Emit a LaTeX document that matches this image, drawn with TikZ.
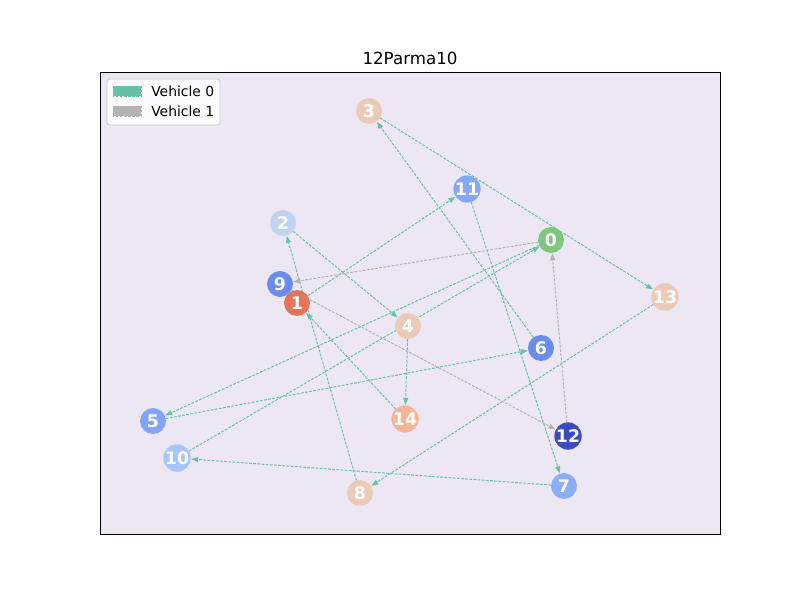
\documentclass[tikz,border=0pt]{standalone}
\usepackage{fontspec}
\setmainfont{DejaVu Sans}
\usetikzlibrary{arrows.meta}
\pgfdeclarelayer{routes}
\pgfsetlayers{routes,main}
\definecolor{panelbg}{RGB}{237,231,244}
\definecolor{routeA}{RGB}{102,194,165}
\definecolor{routeB}{RGB}{179,179,179}
\definecolor{cDepot}{RGB}{126,199,126}
\definecolor{cOne}{RGB}{228,116,90}
\definecolor{cTwo}{RGB}{192,212,241}
\definecolor{cPeach}{RGB}{236,202,184}
\definecolor{cFive}{RGB}{130,165,250}
\definecolor{cSix}{RGB}{104,141,238}
\definecolor{cSeven}{RGB}{138,174,252}
\definecolor{cNine}{RGB}{106,140,240}
\definecolor{cTen}{RGB}{168,196,254}
\definecolor{cEleven}{RGB}{134,168,250}
\definecolor{cTwelve}{RGB}{60,76,192}
\definecolor{cFourteen}{RGB}{244,180,152}
\tikzset{
  stop/.style={circle,fill=#1,minimum size=18.7pt,inner sep=0pt,outer sep=0pt,
    text=white,font=\fontsize{12.5}{12.5}\selectfont\bfseries},
  legA/.style={draw=routeA,fill=routeA,dash pattern=on 2pt off 1pt,line width=0.5pt},
  legB/.style={draw=routeB,fill=routeB,dash pattern=on 2pt off 1pt,line width=0.5pt},
  leg/.style={-{Triangle[length=5pt,width=3.6pt]},line width=0.72pt,dash pattern=on 2pt off 1pt,shorten >=0.3pt},
  legone/.style={leg,routeA},
  legtwo/.style={leg,routeB},
}
\begin{document}
\begin{tikzpicture}[x=0.72pt,y=-0.72pt]
\useasboundingbox (0,0) rectangle (800,600);
\begin{pgfonlayer}{routes}
\fill[white] (0,0) rectangle (800,600);
\fill[panelbg] (100,72) rectangle (720,534);
\end{pgfonlayer}
\node[font=\fontsize{12}{14}\selectfont] (title) at (410,58) {12Parma10};

% customer and depot stops
\node[stop=cDepot]    (n0)  at (551,240) {0};
\node[stop=cOne]      (n1)  at (297,303) {1};
\node[stop=cTwo]      (n2)  at (283,223) {2};
\node[stop=cPeach]    (n3)  at (369,111) {3};
\node[stop=cPeach]    (n4)  at (408,326) {4};
\node[stop=cFive]     (n5)  at (153,421) {5};
\node[stop=cSix]      (n6)  at (541,348) {6};
\node[stop=cSeven]    (n7)  at (564,486) {7};
\node[stop=cPeach]    (n8)  at (360,493) {8};
\node[stop=cNine]     (n9)  at (280,284) {9};
\node[stop=cTen]      (n10) at (177,458) {10};
\node[stop=cEleven]   (n11) at (467,189) {11};
\node[stop=cTwelve]   (n12) at (568,436) {12};
\node[stop=cPeach]    (n13) at (665,297) {13};
\node[stop=cFourteen] (n14) at (405,419) {14};

\begin{pgfonlayer}{routes}
% route of vehicle 0
\draw[legone] (n0) -- (n5);
\draw[legone] (n5) -- (n6);
\draw[legone] (n6) -- (n3);
\draw[legone] (n3) -- (n13);
\draw[legone] (n13) -- (n8);
\draw[legone] (n8) -- (n2);
\draw[legone] (n2) -- (n4);
\draw[legone] (n4) -- (n14);
\draw[legone] (n14) -- (n1);
\draw[legone] (n1) -- (n11);
\draw[legone] (n11) -- (n7);
\draw[legone] (n7) -- (n10);
\draw[legone] (n10) -- (n0);
% route of vehicle 1
\draw[legtwo] (n0) -- (n9);
\draw[legtwo] (n9) -- (n12);
\draw[legtwo] (n12) -- (n0);
\end{pgfonlayer}

% legend
\filldraw[draw={rgb,255:red,204;green,204;blue,204},fill=white,fill opacity=0.8,draw opacity=1,rounded corners=2pt,line width=0.6pt]
  (107,79) rectangle (220,125);
\draw[legA] (113,86) rectangle (141,96);
\draw[legB] (113,106) rectangle (141,116);
\node[anchor=west,font=\fontsize{10}{12}\selectfont,inner sep=0pt] (la) at (151,91) {Vehicle 0};
\node[anchor=west,font=\fontsize{10}{12}\selectfont,inner sep=0pt] (lb) at (151,111) {Vehicle 1};

\draw[black,line width=0.72pt] (100,72) rectangle (720,534);
\end{tikzpicture}
\end{document}
